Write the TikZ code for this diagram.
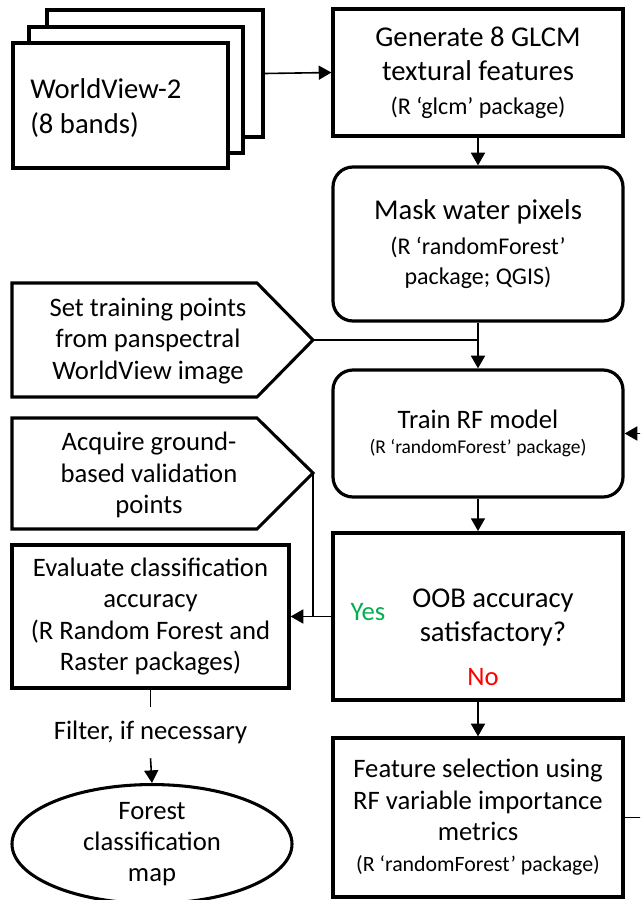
\documentclass[tikz,border=0pt]{standalone}
\usepackage{fontspec}
\setmainfont{Carlito}
\usetikzlibrary{arrows.meta,shapes.geometric}
\definecolor{yesgreen}{RGB}{0,176,80}
\definecolor{nored}{RGB}{255,0,0}
\begin{document}
\begin{tikzpicture}[x=0.75pt,y=-0.75pt,
  tri/.tip={Triangle[length=9.5pt,width=10.5pt]},
  conn/.style={line width=1.2pt},
  box/.style={draw,line width=2.4pt,inner sep=0pt,align=center,minimum width=217.5pt},
  rbox/.style={box,rounded corners=15pt},
  big/.style={font=\fontsize{21.5}{26}\selectfont},
  mid/.style={font=\fontsize{20}{23.5}\selectfont},
  wvrect/.style={draw,line width=2.3pt,fill=white,inner sep=0pt}]
\useasboundingbox (0,0) rectangle (640,900);
\clip (0,0) rectangle (640,900);

% WorldView stack
\node[wvrect,minimum width=162pt,minimum height=95.25pt] (wvc) at (155,73.5) {};
\node[wvrect,minimum width=160.5pt,minimum height=94.5pt] (wvb) at (136,90) {};
\node[wvrect,minimum width=161.25pt,minimum height=93.75pt] (wva) at (120.5,105.5) {};
\node[anchor=west,inner sep=0pt,align=left,font=\fontsize{21.5}{26}\selectfont] (wvt) at (30,108) {WorldView-2\\(8 bands)};

% right column
\node[box,big,minimum height=95.25pt] (gen) at (478,72.5)
  {Generate 8 GLCM\\textural features\\[-1pt]{\fontsize{18}{22}\selectfont (R ‘glcm’ package)}};
\node[rbox,big,minimum height=115.5pt] (mask) at (478,244)
  {Mask water pixels\\{\fontsize{18}{22}\selectfont (R ‘randomForest’}\\[-3.5pt]{\fontsize{18}{22}\selectfont package; QGIS)}};
\node[rbox,minimum height=95.25pt,font=\fontsize{20}{22}\selectfont] (train) at (478,433.5)
  {Train RF model\\[-3pt]{\fontsize{14.6}{18}\selectfont (R ‘randomForest’ package)}};
\node[box,line width=3pt,minimum height=125.25pt] (oob) at (478,616.5) {};
\node[big,align=center] (oobt) at (493,617.5) {OOB accuracy\\satisfactory?};
\node[mid,text=yesgreen] (yes) at (368,612) {Yes};
\node[mid,text=nored] (no) at (483,677) {No};
\node[box,mid,minimum height=119.25pt] (feat) at (478,817.5)
  {Feature selection using\\RF variable importance\\metrics\\{\fontsize{16.4}{20}\selectfont (R ‘randomForest’ package)}};

% left column
\draw[line width=2.3pt] (12,283) -- (257,283) -- (313,340) -- (257,397) -- (12,397) -- cycle;
\coordinate (stip) at (313,340);
\node[mid,align=center] (sett) at (148,341) {Set training points\\from panspectral\\WorldView image};
\draw[line width=2.3pt] (12,418) -- (257,418) -- (313,473) -- (257,529) -- (12,529) -- cycle;
\coordinate (atip) at (313,473);
\node[mid,align=center] (acq) at (149,475) {Acquire ground-\\based validation\\points};

\node[box,mid,minimum width=207.75pt,minimum height=107.25pt] (eval) at (150.5,616.5)
  {Evaluate classification\\accuracy\\(R Random Forest and\\Raster packages)};
\node[mid,inner sep=0pt,minimum height=38.25pt] (filt) at (150.5,732.5) {Filter, if necessary};
\node[ellipse,draw,line width=2.3pt,inner sep=0pt,minimum width=210pt,minimum height=81pt,mid,align=center] (forest) at (152,844)
  {Forest\\classification\\map};

% connectors
\draw[conn,-tri] (wvc.east) -- (gen.west);
\draw[conn,-tri] (gen.south) -- (mask.north);
\draw[conn,-tri] (mask.south) -- (train.north);
\draw[conn] (stip) -- (stip -| mask.south);
\draw[conn,-tri] (train.south) -- (oob.north);
\draw[conn,-tri] (oob.west) -- (eval.east);
\draw[conn] (atip) -- (atip |- eval.east);
\draw[conn,-tri] (oob.south) -- (feat.north);
\draw[conn,-tri] (feat.east) -- ++(30,0) |- (train.east);
\draw[conn] (eval.south) -- (filt.north);
\draw[conn,-tri] (filt.south) -- (forest.north);
\end{tikzpicture}
\end{document}
